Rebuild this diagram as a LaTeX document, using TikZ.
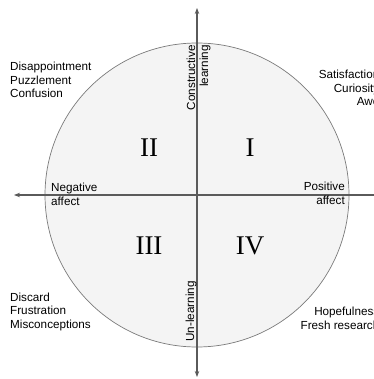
\documentclass[tikz,border=0pt]{standalone}
\usepackage{fontspec}
\setmainfont{Liberation Sans}
\newfontfamily\numfont{Liberation Serif}
\usetikzlibrary{arrows.meta}
\definecolor{axisgray}{HTML}{5A5A5A}
\definecolor{circlegray}{HTML}{7A7A7A}
\definecolor{circlefill}{HTML}{F4F4F4}
\begin{document}
\begin{tikzpicture}[x=1pt,y=-1pt,
  axisline/.style={draw=axisgray,line width=1.4pt,{Stealth[length=6pt,width=4.5pt]}-{Stealth[length=6pt,width=4.5pt]}},
  blocktext/.style={inner sep=0pt,font=\fontsize{11.7}{13.6}\selectfont},
  numeral/.style={inner sep=0pt,font=\numfont\fontsize{27}{30}\selectfont}]
\useasboundingbox (0,0) rectangle (373,379);
\coordinate (c) at (197,195);
\fill[circlefill] (c) circle[radius=152];
\draw[circlegray,line width=0.7pt] (c) circle[radius=152];
\coordinate (top) at (197,8);
\coordinate (bottom) at (197,377);
\coordinate (left) at (14,195);
\coordinate (right) at (386,195);
\draw[axisline] (bottom) -- (top);
\draw[axisline] (left) -- (right);
\node[numeral] (q2) at (149,148) {II};
\node[numeral] (q1) at (250,148) {I};
\node[numeral] (q3) at (149,246) {III};
\node[numeral] (q4) at (250,246) {IV};
\node[blocktext,align=left,anchor=north west] (tl) at (10,62) {Disappointment\\Puzzlement\\Confusion};
\node[blocktext,align=right,anchor=north east] (tr) at (379.5,70) {Satisfaction\\Curiosity\\Awe};
\node[blocktext,align=left,anchor=north west] (bl) at (10,292.5) {Discard\\Frustration\\Misconceptions};
\node[blocktext,align=right,anchor=north east] (br) at (379.5,307) {Hopefulness\\Fresh research};
\node[blocktext,align=left,anchor=north west,font=\fontsize{11.7}{14}\selectfont] (neg) at (51,183) {Negative\\affect};
\node[blocktext,align=right,anchor=north east,font=\fontsize{11.7}{14}\selectfont] (pos) at (345,182) {Positive\\affect};
\node[blocktext,align=right,rotate=90,anchor=east,font=\fontsize{11.7}{13}\selectfont] (cl) at (198.5,45) {Constructive\\learning};
\node[blocktext,rotate=90,anchor=base west] (ul) at (194,342) {Un-learning};
\end{tikzpicture}
\end{document}
